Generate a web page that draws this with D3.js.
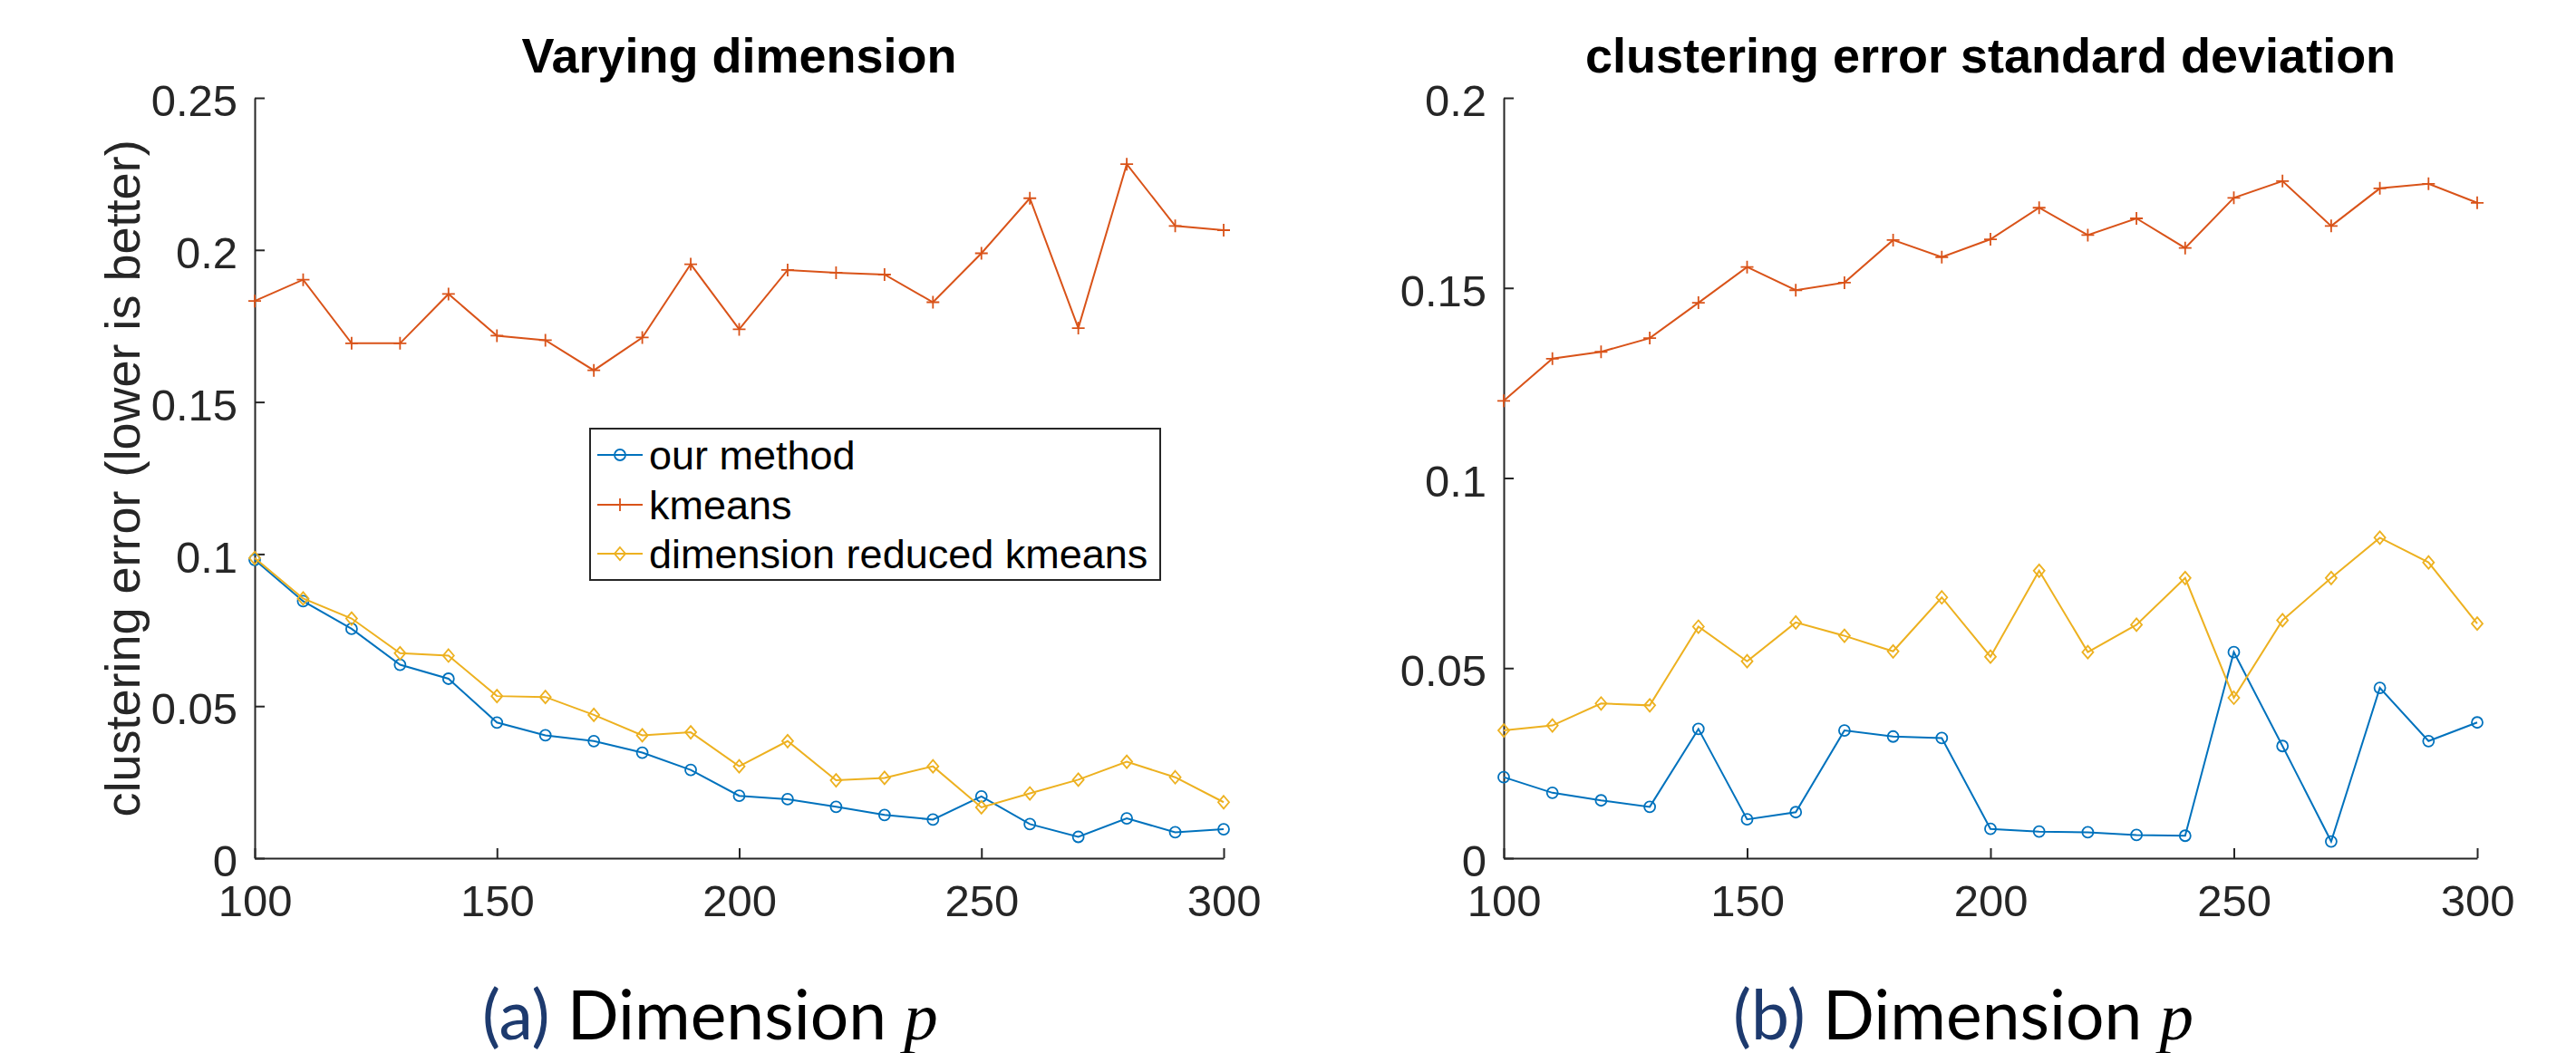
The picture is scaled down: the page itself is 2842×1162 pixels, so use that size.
<!DOCTYPE html>
<html>
<head>
<meta charset="utf-8">
<script src="https://cdn.jsdelivr.net/npm/d3@7"></script>
<style>
  body { margin: 0; background: #fff; }
  svg { display: block; }
</style>
</head>
<body>
<svg width="2842" height="1162"></svg>
<script>
// dimension p on the x axis
const dims = [100, 110, 120, 130, 140, 150, 160, 170, 180, 190, 200,
              210, 220, 230, 240, 250, 260, 270, 280, 290, 300];

// (a) mean clustering error
const errOurs = [0.0981, 0.0845, 0.0754, 0.0636, 0.0590, 0.0446, 0.0404, 0.0385, 0.0347, 0.0290, 0.0205,
                 0.0194, 0.0169, 0.0142, 0.0127, 0.0203, 0.0112, 0.0070, 0.0131, 0.0085, 0.0095];
const errKmeans = [0.1832, 0.1902, 0.1693, 0.1693, 0.1855, 0.1718, 0.1703, 0.1604, 0.1712, 0.1953, 0.1739,
                   0.1934, 0.1925, 0.1919, 0.1828, 0.1989, 0.2170, 0.1743, 0.2282, 0.2079, 0.2065];
const errReduced = [0.0987, 0.0854, 0.0788, 0.0674, 0.0666, 0.0533, 0.0530, 0.0471, 0.0404, 0.0414, 0.0302,
                    0.0385, 0.0256, 0.0264, 0.0302, 0.0167, 0.0213, 0.0258, 0.0317, 0.0266, 0.0184];

// (b) standard deviation of the clustering error
const sdOurs = [0.0213, 0.0172, 0.0152, 0.0135, 0.0340, 0.0102, 0.0121, 0.0336, 0.0320, 0.0316, 0.0077,
                0.0070, 0.0068, 0.0061, 0.0059, 0.0542, 0.0295, 0.0044, 0.0448, 0.0308, 0.0357];
const sdKmeans = [0.1203, 0.1314, 0.1332, 0.1368, 0.1461, 0.1555, 0.1494, 0.1514, 0.1626, 0.1581, 0.1628,
                  0.1711, 0.1639, 0.1683, 0.1605, 0.1737, 0.1781, 0.1663, 0.1762, 0.1774, 0.1724];
const sdReduced = [0.0336, 0.0349, 0.0407, 0.0402, 0.0609, 0.0518, 0.0620, 0.0585, 0.0544, 0.0686, 0.0530,
                   0.0756, 0.0542, 0.0614, 0.0737, 0.0422, 0.0626, 0.0737, 0.0843, 0.0778, 0.0617];

const seriesNames = ["our method", "kmeans", "dimension reduced kmeans"];
const xTicks = [100, 150, 200, 250, 300];
const yTicksA = [0, 0.05, 0.1, 0.15, 0.2, 0.25];
const yTicksB = [0, 0.05, 0.1, 0.15, 0.2];

const colors = ["#0072BD", "#D95319", "#EDB120"];
const markers = ["circle", "plus", "diamond"];
const axisColor = "#262626";
const font = "'Liberation Sans', Arial, Helvetica, sans-serif";

const svg = d3.select("svg");
svg.append("rect").attr("width", 2842).attr("height", 1162).attr("fill", "#fff");

// draws one marker symbol at (x, y)
function marker(g, kind, x, y, color) {
  if (kind === "circle") {
    g.append("circle").attr("cx", x).attr("cy", y).attr("r", 6)
      .attr("fill", "none").attr("stroke", color).attr("stroke-width", 1.8);
  } else if (kind === "plus") {
    g.append("path").attr("d", `M${x - 7},${y}H${x + 7}M${x},${y - 7}V${y + 7}`)
      .attr("stroke", color).attr("stroke-width", 1.8);
  } else {
    g.append("path").attr("d", `M${x},${y - 7}L${x + 6},${y}L${x},${y + 7}L${x - 6},${y}Z`)
      .attr("fill", "none").attr("stroke", color).attr("stroke-width", 1.8);
  }
}

function panel(opts) {
  const g = svg.append("g");
  const x = d3.scaleLinear().domain([100, 300]).range([opts.left, opts.right]);
  const y = d3.scaleLinear().domain([0, opts.yMax]).range([947, 108]);

  // axes, MATLAB style: ticks pointing inwards, box off
  const xAxis = d3.axisBottom(x).tickValues(xTicks).tickSizeInner(-11).tickSizeOuter(0)
    .tickPadding(0).tickFormat(d3.format("d"));
  const yAxis = d3.axisLeft(y).tickValues(opts.yTicks).tickSizeInner(-11).tickSizeOuter(0)
    .tickPadding(0).tickFormat(d => d === 0 ? "0" : String(d));

  const gx = g.append("g").attr("transform", "translate(0,947)").call(xAxis);
  const gy = g.append("g").attr("transform", `translate(${opts.left},0)`).call(yAxis);
  [gx, gy].forEach(a => {
    a.select(".domain").attr("stroke", axisColor).attr("stroke-width", 2);
    a.selectAll(".tick line").attr("stroke", axisColor).attr("stroke-width", 2);
    a.selectAll(".tick text").attr("fill", axisColor).attr("font-family", font).attr("font-size", 49);
  });
  gx.selectAll(".tick text").attr("y", 64).attr("dy", null);
  gy.selectAll(".tick text").attr("x", -19).attr("dy", "0.4em");

  // series
  const line = d3.line().x((d, i) => x(dims[i])).y(d => y(d));
  opts.series.forEach((vals, s) => {
    const sg = g.append("g");
    sg.append("path").attr("d", line(vals)).attr("fill", "none")
      .attr("stroke", colors[s]).attr("stroke-width", 2);
    vals.forEach((v, i) => marker(sg, markers[s], x(dims[i]), y(v), colors[s]));
  });

  // title
  g.append("text").attr("x", (opts.left + opts.right) / 2).attr("y", 80)
    .attr("text-anchor", "middle").attr("font-family", font).attr("font-weight", "bold")
    .attr("font-size", 54).attr("fill", "#000").text(opts.title);

  // sub-figure caption
  const cap = g.append("text").attr("x", opts.captionX).attr("y", 1147)
    .attr("font-family", "Lato, 'Noto Sans', sans-serif").attr("font-size", 75);
  cap.append("tspan").attr("fill", "#1d3a6e").text(opts.tag);
  cap.append("tspan").attr("fill", "#000").text(" Dimension ");
  cap.append("tspan").attr("fill", "#000").attr("font-family", "'Liberation Serif', serif")
    .attr("font-style", "italic").text("p");

  return g;
}

const ga = panel({
  left: 281, right: 1350, yMax: 0.25, yTicks: yTicksA,
  series: [errOurs, errKmeans, errReduced],
  title: "Varying dimension", tag: "(a)", captionX: 532
});

panel({
  left: 1659, right: 2733, yMax: 0.2, yTicks: yTicksB,
  series: [sdOurs, sdKmeans, sdReduced],
  title: "clustering error standard deviation", tag: "(b)", captionX: 1912
});

// y axis label of the left panel
ga.append("text").attr("transform", "translate(154,528) rotate(-90)")
  .attr("text-anchor", "middle").attr("font-family", font).attr("font-size", 54)
  .attr("fill", axisColor).text("clustering error (lower is better)");

// legend of the left panel
const leg = ga.append("g");
leg.append("rect").attr("x", 651).attr("y", 473).attr("width", 629).attr("height", 167)
  .attr("fill", "#fff").attr("stroke", axisColor).attr("stroke-width", 2);
const rowY = [502, 557, 611];
seriesNames.forEach((name, s) => {
  leg.append("line").attr("x1", 659).attr("x2", 709).attr("y1", rowY[s]).attr("y2", rowY[s])
    .attr("stroke", colors[s]).attr("stroke-width", 2);
  marker(leg, markers[s], 684, rowY[s], colors[s]);
  leg.append("text").attr("x", 716).attr("y", rowY[s]).attr("dy", "0.35em")
    .attr("font-family", font).attr("font-size", 45).attr("fill", "#000").text(name);
});
</script>
</body>
</html>
